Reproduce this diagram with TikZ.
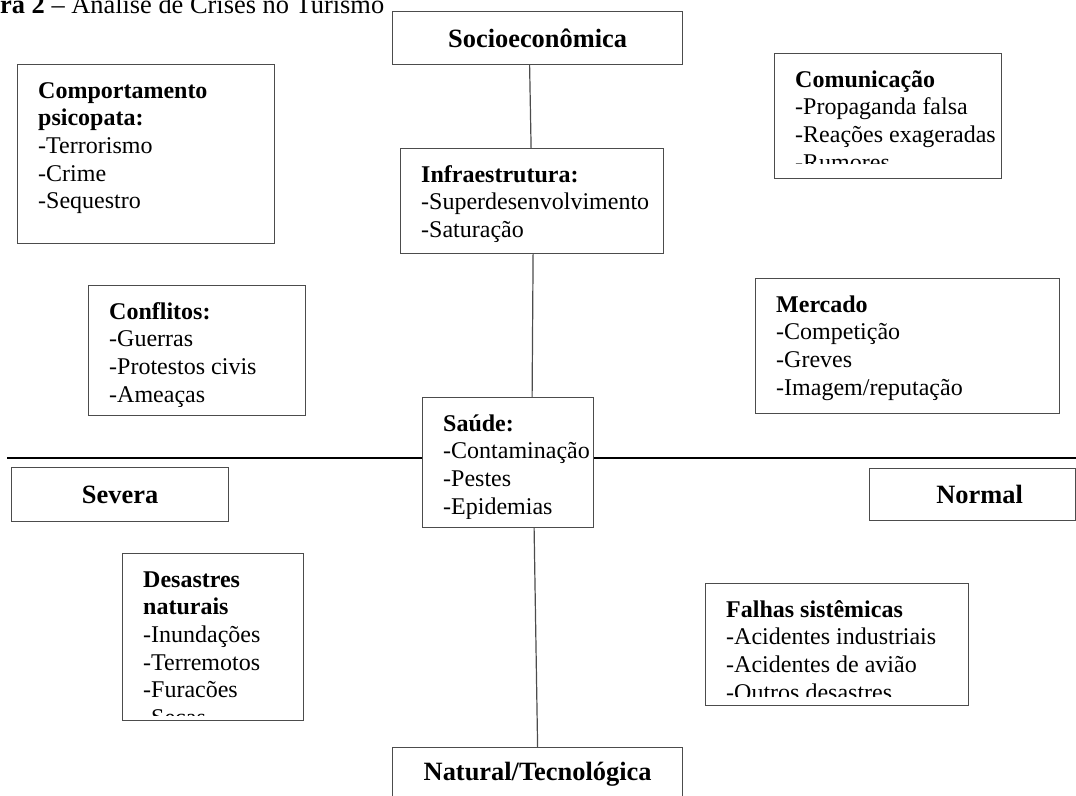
\documentclass[tikz,border=0pt]{standalone}
\usepackage{fontspec}
\setmainfont{Liberation Serif}
\usepackage{tikz}

\tikzset{
  caixa/.style={draw=black!70, line width=1.2pt, rectangle, anchor=north west, inner sep=0pt},
  texto/.style={draw=none, minimum width=0pt, minimum height=0pt,
    font=\fontsize{24}{27.6}\selectfont, align=left, anchor=north west, inner sep=0pt},
  rotulo/.style={caixa, font=\fontsize{26.4}{30}\selectfont\bfseries},
  ligacao/.style={draw=black!70, line width=1.2pt},
  eixo/.style={draw=black, line width=1.4pt},
}

% caixa com texto no topo, cortado na margem de baixo (#1 = margem)
\newcommand{\caixa}[7][9]{%
  \node[caixa, minimum width=#5pt, minimum height=#6pt,
    path picture={
      \clip ([yshift=#1pt]path picture bounding box.south west)
        rectangle (path picture bounding box.north east);
      \node[texto] (#2-txt) at ([shift={(20pt,-13.7pt)}]path picture bounding box.north west) {\strut#7};
    }] (#2) at (#3,#4) {};}

\begin{document}
\begin{tikzpicture}[x=1pt,y=-1pt]
%\draw [blue!20] (0,0) grid[step=50] (1076,795);
\useasboundingbox (0,0) rectangle (1076,795);

\node[texto, anchor=base west, font=\fontsize{26.4}{30}\selectfont] (titulo) at (0,13)
  {\textbf{ra 2} – Análise de Crises no Turismo};

\node[rotulo, minimum width=290pt, minimum height=53pt] (socio) at (392,11) {Socioeconômica};
\node[rotulo, minimum width=217pt, minimum height=54pt] (severa) at (11,467) {Severa};
\node[rotulo, minimum width=206pt, minimum height=52pt] (normal) at (869,468) {\hspace*{14pt}Normal};
\node[rotulo, minimum width=290pt, minimum height=53pt] (natural) at (392,747) {Natural/Tecnológica};

\caixa{comport}{17}{64}{257}{179}{\textbf{Comportamento}\\\textbf{psicopata:}\\-Terrorismo\\-Crime\\-Sequestro}
\caixa[15]{comunic}{774}{53}{227}{125}{\textbf{Comunicação}\\-Propaganda falsa\\-Reações exageradas\\-Rumores}
\caixa{infra}{400}{148}{263}{105}{\textbf{Infraestrutura:}\\-Superdesenvolvimento\\-Saturação}
\caixa{conflitos}{88}{285}{217}{130}{\textbf{Conflitos:}\\-Guerras\\-Protestos civis\\-Ameaças}
\caixa{mercado}{755}{278}{304}{135}{\textbf{Mercado}\\-Competição\\-Greves\\-Imagem/reputação}
\caixa{saude}{422}{397}{171}{130}{\textbf{Saúde:}\\-Contaminação\\-Pestes\\-Epidemias}
\caixa[5]{desastres}{122}{553}{181}{167}{\textbf{Desastres}\\\textbf{naturais}\\-Inundações\\-Terremotos\\-Furacões\\-Secas}
\caixa{falhas}{705}{583}{263}{122}{\textbf{Falhas sistêmicas}\\-Acidentes industriais\\-Acidentes de avião\\-Outros desastres}

\coordinate (eixoE) at (7,458);
\coordinate (eixoD) at (1076,458);
\draw[eixo] (eixoE) -- (eixoE -| saude.west);
\draw[eixo] (saude.east |- eixoD) -- (eixoD);

\draw[ligacao] ([xshift=-8pt]socio.south) -- ([xshift=-1pt]infra.north);
\draw[ligacao] ([xshift=1pt]infra.south) -- ([xshift=24pt]saude.north);
\draw[ligacao] ([xshift=26pt]saude.south) -- (natural.north);
\end{tikzpicture}
\end{document}
